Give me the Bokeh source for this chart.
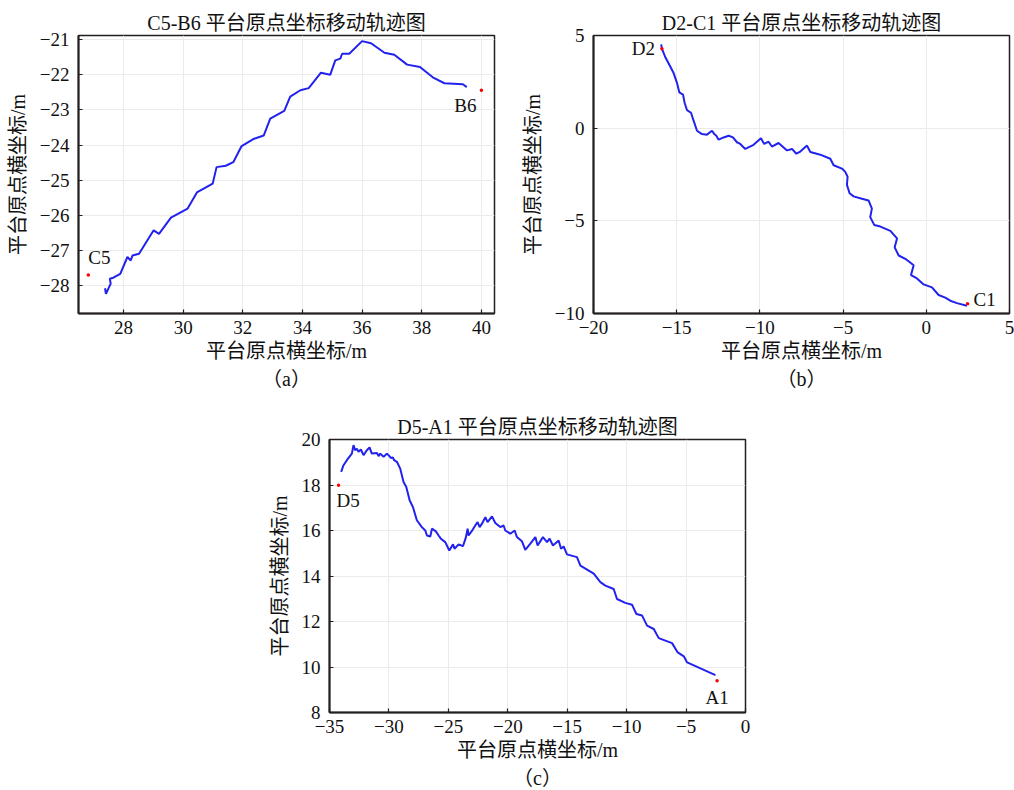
from bokeh.plotting import figure
from bokeh.layouts import column, row
from bokeh.models import Title, FixedTicker, Range1d, Spacer
from bokeh.core.properties import value
from bokeh.embed import file_html
from bokeh.resources import INLINE

# ---------------- data ----------------
# (a) C5-B6
a_x = [27.38, 27.41, 27.57, 27.54, 27.66, 27.89, 28.13, 28.24, 28.30, 28.52, 29.01, 29.19,
       29.59, 30.15, 30.46, 30.99, 31.12, 31.43, 31.68, 31.96, 32.38, 32.70, 32.92, 33.39,
       33.59, 33.93, 34.21, 34.62, 34.93, 35.10, 35.27, 35.33, 35.57, 36.00, 36.30, 36.75,
       37.08, 37.51, 37.94, 38.37, 38.76, 39.38, 39.51]
a_y = [-28.08, -28.24, -27.95, -27.81, -27.78, -27.67, -27.19, -27.29, -27.15, -27.10, -26.43, -26.53,
       -26.07, -25.81, -25.35, -25.10, -24.63, -24.59, -24.49, -24.03, -23.82, -23.73, -23.25, -23.03,
       -22.62, -22.44, -22.38, -21.94, -22.00, -21.59, -21.54, -21.40, -21.40, -21.04, -21.10, -21.37,
       -21.43, -21.71, -21.78, -22.07, -22.24, -22.27, -22.35]
a_pt_names = ["C5", "B6"]
a_pt_x = [26.82, 40.0]
a_pt_y = [-27.70, -22.44]
a_xticks = [28, 30, 32, 34, 36, 38, 40]
a_yticks = [-28, -27, -26, -25, -24, -23, -22, -21]

# (b) D2-C1
b_x = [-15.93, -15.89, -15.69, -15.38, -15.18, -14.98, -14.84, -14.62, -14.52, -14.38, -14.14, -13.98,
       -13.78, -13.48, -13.18, -12.88, -12.74, -12.62, -12.48, -12.18, -11.88, -11.62, -11.38, -11.18,
       -10.88, -10.38, -9.94, -9.74, -9.48, -9.28, -8.88, -8.37, -8.07, -7.81, -7.57, -7.17, -6.97,
       -6.37, -5.77, -5.57, -5.07, -4.87, -4.73, -4.77, -4.61, -4.37, -3.87, -3.47, -3.27, -3.37,
       -3.13, -2.76, -2.16, -1.76, -1.90, -1.66, -1.26, -0.76, -0.92, -0.56, -0.16, 0.34, 0.74,
       1.14, 1.44, 1.84, 2.44]
b_y = [4.52, 4.29, 3.84, 3.31, 2.96, 2.43, 1.93, 1.81, 1.36, 0.97, 0.83, 0.39,
       -0.14, -0.32, -0.35, -0.14, -0.32, -0.41, -0.62, -0.50, -0.41, -0.50, -0.76, -0.85,
       -1.12, -0.90, -0.55, -0.85, -0.73, -0.99, -0.80, -1.20, -1.12, -1.38, -1.26, -0.94, -1.29,
       -1.43, -1.65, -2.00, -2.18, -2.36, -2.62, -3.06, -3.51, -3.68, -3.81, -3.90, -4.34, -4.80,
       -5.22, -5.31, -5.54, -5.95, -6.43, -6.87, -7.05, -7.40, -7.93, -8.11, -8.43, -8.59, -9.00,
       -9.14, -9.31, -9.44, -9.58]
b_pt_names = ["D2", "C1"]
b_pt_x = [-15.89, 2.48]
b_pt_y = [4.29, -9.47]
b_xticks = [-20, -15, -10, -5, 0, 5]
b_yticks = [-10, -5, 0, 5]

# (c) D5-A1
c_x = [-34.02, -33.82, -33.54, -33.12, -32.98, -32.84, -32.70, -32.56, -32.36, -32.14, -31.86, -31.63,
       -31.44, -31.01, -30.87, -30.73, -30.45, -30.17, -29.98, -29.84, -29.67, -29.56, -29.33, -29.05,
       -28.77, -28.54, -28.26, -27.98, -27.65, -27.23, -26.94, -26.80, -26.52, -26.38, -26.05, -25.82,
       -25.63, -25.26, -24.92, -24.61, -24.48, -24.14, -23.77, -23.52, -23.38, -23.30, -23.02, -22.74,
       -22.54, -22.37, -22.17, -21.89, -21.70, -21.33, -21.05, -20.63, -20.35, -20.21, -19.79, -19.42,
       -19.23, -18.81, -18.53, -18.10, -17.68, -17.49, -17.04, -16.70, -16.48, -16.20, -15.72, -15.52,
       -15.30, -15.02, -14.18, -13.89, -12.77, -12.21, -11.79, -11.09, -10.81, -10.11, -9.55, -9.18,
       -8.70, -8.28, -7.72, -7.30, -6.74, -6.18, -5.70, -5.19, -4.91, -2.53]
c_y = [18.58, 18.87, 19.09, 19.38, 19.75, 19.53, 19.60, 19.46, 19.56, 19.31, 19.53, 19.65,
       19.38, 19.41, 19.27, 19.38, 19.24, 19.38, 19.28, 19.19, 19.21, 19.09, 19.02, 18.72,
       18.13, 17.91, 17.33, 17.03, 16.45, 16.15, 16.00, 15.78, 15.74, 16.08, 15.96, 15.78,
       15.64, 15.49, 15.12, 15.39, 15.20, 15.39, 15.31, 15.71, 16.08, 15.78, 15.98, 16.22,
       16.37, 16.15, 16.30, 16.59, 16.37, 16.62, 16.33, 16.15, 16.22, 16.00, 15.86, 16.00,
       15.71, 15.53, 15.15, 15.42, 15.71, 15.34, 15.71, 15.49, 15.64, 15.34, 15.56, 15.20,
       15.30, 14.95, 14.83, 14.46, 14.10, 13.73, 13.58, 13.43, 12.99, 12.82, 12.74, 12.33,
       12.26, 11.82, 11.67, 11.27, 11.16, 11.05, 10.64, 10.47, 10.20, 9.64]
c_pt_names = ["D5", "A1"]
c_pt_x = [-34.24, -2.39]
c_pt_y = [17.99, 9.40]
c_xticks = [-35, -30, -25, -20, -15, -10, -5, 0]
c_yticks = [8, 10, 12, 14, 16, 18, 20]

titles = ["C5-B6 平台原点坐标移动轨迹图", "D2-C1 平台原点坐标移动轨迹图", "D5-A1 平台原点坐标移动轨迹图"]
subcaps = ["（a）", "（b）", "（c）"]
xlabel = "平台原点横坐标/m"
ylabel = "平台原点横坐标/m"

FONT = "'Liberation Serif', 'Noto Sans CJK SC'"
LINE_COLOR = "#2222ee"
FRAME_COLOR = "#231f20"
TXT = "#111111"


def fmt(v):
    return ("%g" % v).replace("-", "\u2212")


def panel(xs, ys, px, py, names, xr, yr, xt, yt, title, cap, W, H, bl, br, bt, bb, offs):
    p = figure(width=W, height=H, x_range=Range1d(*xr), y_range=Range1d(*yr),
               output_backend="svg", toolbar_location=None,
               min_border_left=bl, min_border_right=br, min_border_top=bt, min_border_bottom=bb)
    p.title.text = title
    p.title.align = "center"
    p.title.text_font = FONT
    p.title.text_font_size = "20px"
    p.title.text_font_style = "normal"
    p.title.text_color = TXT
    p.title.offset = 0
    p.title.standoff = 4
    p.add_layout(Title(text=cap, align="center", text_font=FONT, text_font_size="20px",
                       text_font_style="normal", text_color=TXT, standoff=3), "below")
    p.line(xs, ys, line_color=LINE_COLOR, line_width=2)
    p.scatter(px, py, size=3.5, color="red", line_color=None)
    for i, nm in enumerate(names):
        ox, oy, al, bl_ = offs[i]
        p.text([px[i]], [py[i]], text=[nm], x_offset=ox, y_offset=oy,
               text_align=al, text_baseline=bl_, text_font=value(FONT),
               text_font_size="19px", text_color=TXT)
    p.xaxis.ticker = FixedTicker(ticks=xt)
    p.yaxis.ticker = FixedTicker(ticks=yt)
    p.xaxis.major_label_overrides = {t: fmt(t) for t in xt}
    p.yaxis.major_label_overrides = {t: fmt(t) for t in yt}
    for ax in (p.xaxis, p.yaxis):
        ax.major_tick_in = 4
        ax.major_tick_out = 0
        ax.minor_tick_line_color = None
        ax.major_tick_line_color = FRAME_COLOR
        ax.major_tick_line_width = 1.2
        ax.axis_line_color = FRAME_COLOR
        ax.axis_line_width = 2
        ax.major_label_text_font = FONT
        ax.major_label_text_font_size = "19px"
        ax.major_label_text_color = TXT
        ax.axis_label_text_font = FONT
        ax.axis_label_text_font_size = "20px"
        ax.axis_label_text_font_style = "normal"
        ax.axis_label_text_color = TXT
    p.xaxis.axis_label = xlabel
    p.yaxis.axis_label = ylabel
    p.xaxis.major_label_standoff = 7
    p.yaxis.major_label_standoff = 9
    p.xaxis.axis_label_standoff = 3
    p.yaxis.axis_label_standoff = 8
    p.grid.grid_line_color = "#ebebeb"
    p.grid.grid_line_width = 1
    p.outline_line_color = FRAME_COLOR
    p.outline_line_width = 1.5
    p.outline_line_alpha = 1
    p.background_fill_color = "white"
    p.border_fill_color = "white"
    return p


pa = panel(a_x, a_y, a_pt_x, a_pt_y, a_pt_names, (26.49, 40.44), (-28.8, -20.88),
           a_xticks, a_yticks, titles[0], subcaps[0],
           W=515, H=400, bl=78, br=21, bt=35, bb=87,
           offs=[(0, -7, "left", "bottom"), (-5, 5, "right", "top")])

pb = panel(b_x, b_y, b_pt_x, b_pt_y, b_pt_names, (-20, 5), (-10, 5),
           b_xticks, b_yticks, titles[1], subcaps[1],
           W=499, H=400, bl=78, br=5, bt=32, bb=86,
           offs=[(-7, 0, "right", "middle"), (6, -4, "left", "middle")])

pc = panel(c_x, c_y, c_pt_x, c_pt_y, c_pt_names, (-35, 0), (8, 20),
           c_xticks, c_yticks, titles[2], subcaps[2],
           W=507, H=390, bl=70, br=21, bt=39, bb=78,
           offs=[(-2, 5, "left", "top"), (0, 6, "center", "top")])

layout = column(row(pa, pb), row(Spacer(width=259, height=10), pc))

open("out.html", "w").write(file_html(layout, INLINE))
